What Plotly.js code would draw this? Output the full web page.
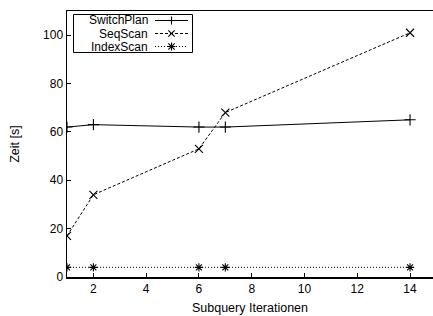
<!DOCTYPE html>
<html>
<head>
<meta charset="utf-8">
<script src="https://cdn.plot.ly/plotly-3.0.1.min.js"></script>
<style>html,body{margin:0;padding:0;overflow:hidden;background:#fff}</style>
</head>
<body>
<div id="chart" style="width:433px;height:316px"></div>
<script>
const seriesNames = ["SwitchPlan", "SeqScan", "IndexScan"];
const iterations = [1, 2, 6, 7, 14];
const switchPlan = [62, 63, 62, 62, 65];
const seqScan = [17, 34, 53, 68, 101];
const indexScan = [4, 4, 4, 4, 4];
const xTicks = [2, 4, 6, 8, 10, 12, 14];
const yTicks = [0, 20, 40, 60, 80, 100];

const font = "Liberation Sans, Arial, sans-serif";
const W = 433, H = 316, ML = 67, MR = 0, MT = 11, MB = 39;
const PW = W - ML - MR, PH = H - MT - MB;
const px = v => (v - ML) / PW;
const py = v => (H - MB - v) / PH;

const dashes = ["solid", "3px,2px", "1px,2px"];
const symbols = ["cross-thin-open", "x-thin-open", "asterisk-open"];
const sizes = [8, 8, 7];
const seriesData = [switchPlan, seqScan, indexScan];

const traces = seriesData.map((ys, i) => ({
  x: iterations, y: ys, name: seriesNames[i], mode: "lines+markers",
  showlegend: false,
  line: {color: "#000", width: 1, dash: dashes[i]},
  marker: {symbol: symbols[i], size: sizes[i], line: {color: "#000", width: 1.1}}
}));

// gnuplot-style legend (text first, then sample) drawn as decorations
const shapes = [];
const annotations = [];
shapes.push({type: "rect", xref: "paper", yref: "paper",
  x0: px(73.5), x1: px(192.5), y0: py(52.5), y1: py(14.5),
  line: {color: "#000", width: 1}, fillcolor: "#fff", layer: "below"});
const rowY = [20.5, 33.5, 46.5];
const sampleX0 = 155, sampleX1 = 188, sampleMid = 171.5;
function seg(cx, cy, dx0, dy0, dx1, dy1) {
  shapes.push({type: "line", xref: "paper", yref: "paper",
    xsizemode: "pixel", ysizemode: "pixel", xanchor: px(cx), yanchor: py(cy),
    x0: dx0, x1: dx1, y0: dy0, y1: dy1, line: {color: "#000", width: 1.1}});
}
seriesNames.forEach((name, i) => {
  annotations.push({xref: "paper", yref: "paper", x: px(150), y: py(rowY[i]),
    xanchor: "right", yanchor: "middle", text: name, showarrow: false,
    font: {family: font, size: 12, color: "#000"}});
  shapes.push({type: "line", xref: "paper", yref: "paper",
    x0: px(sampleX0), x1: px(sampleX1), y0: py(rowY[i]), y1: py(rowY[i]),
    line: {color: "#000", width: 1, dash: dashes[i]}});
  const r = 4;
  if (i === 0 || i === 2) { seg(sampleMid, rowY[i], -r, 0, r, 0); seg(sampleMid, rowY[i], 0, -r, 0, r); }
  if (i === 1 || i === 2) { seg(sampleMid, rowY[i], -r*0.8, -r*0.8, r*0.8, r*0.8); seg(sampleMid, rowY[i], -r*0.8, r*0.8, r*0.8, -r*0.8); }
});

const layout = {
  width: W, height: H,
  margin: {l: ML, r: MR, t: MT, b: MB, pad: 0},
  paper_bgcolor: "#fff", plot_bgcolor: "#fff",
  font: {family: font, size: 12, color: "#000"},
  showlegend: false,
  shapes: shapes, annotations: annotations,
  xaxis: {range: [1, 14.87], tickvals: xTicks, ticktext: xTicks.map(String),
    ticks: "inside", ticklen: 4, tickwidth: 1, tickcolor: "#000",
    showline: true, linecolor: "#000", linewidth: 1.5, mirror: true,
    showgrid: false, zeroline: false,
    tickfont: {family: font, size: 12, color: "#000"},
    title: {text: "Subquery Iterationen", font: {family: font, size: 12.5, color: "#000"}, standoff: 8}},
  yaxis: {range: [0, 110], tickvals: yTicks, ticktext: yTicks.map(String),
    ticks: "inside", ticklen: 4, tickwidth: 1, tickcolor: "#000",
    showline: true, linecolor: "#000", linewidth: 1.5, mirror: false,
    showgrid: false, zeroline: false,
    tickfont: {family: font, size: 12, color: "#000"},
    title: {text: "Zeit [s]", font: {family: font, size: 12.5, color: "#000"}, standoff: 20}}
};

Plotly.newPlot("chart", traces, layout, {displayModeBar: false, staticPlot: true});
</script>
</body>
</html>
